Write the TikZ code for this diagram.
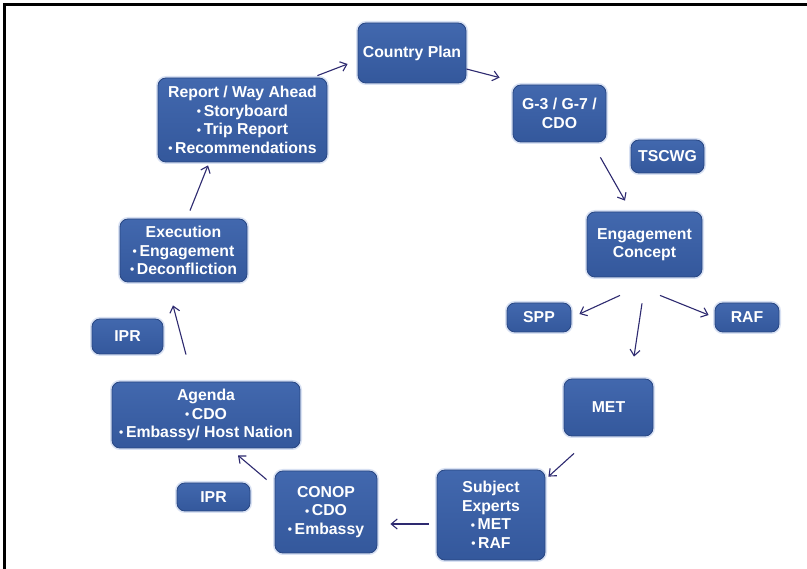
\documentclass[tikz,border=0pt]{standalone}
\usepackage{fontspec}
\setmainfont{Liberation Sans}
\usetikzlibrary{arrows.meta}
\definecolor{boxtop}{RGB}{66,104,174}
\definecolor{boxbot}{RGB}{52,88,156}
\definecolor{boxedge}{RGB}{40,70,130}
\definecolor{glow}{RGB}{190,205,235}
\definecolor{arrcol}{RGB}{46,42,112}
\newcommand{\bul}{{\fontsize{12}{12}\selectfont\raisebox{0.8pt}{•}}\,}
\tikzset{
  box/.style={rectangle, rounded corners=8pt, top color=boxtop, bottom color=boxbot,
    draw=boxedge, line width=0.8pt, text=white, align=center, inner sep=0pt,
    font=\bfseries\fontsize{15.8}{18.5}\selectfont,
    preaction={draw=glow, line width=4pt, opacity=0.6}},
  arr/.style={draw=arrcol, line width=1.1pt, -{Straight Barb[length=6pt,width=10pt]}}
}
\begin{document}
\begin{tikzpicture}[x=1pt,y=-1pt]
\useasboundingbox (0,0) rectangle (807,569);
\fill[white] (0,0) rectangle (807,569);
\draw[black, line width=3pt] (4.5,569) -- (4.5,4.5) -- (807,4.5);

\node[box, minimum width=108pt, minimum height=60pt] (cp) at (412,53) {Country Plan};
\node[box, minimum width=169pt, minimum height=84pt] (rep) at (242.5,120) {Report / Way Ahead\\\bul Storyboard\\\bul Trip Report\\\bul Recommendations};
\node[box, minimum width=93pt, minimum height=57pt] (g3) at (559.5,113.5) {G-3 / G-7 /\\CDO};
\node[box, minimum width=73pt, minimum height=33pt] (tsc) at (667.5,156.5) {TSCWG};
\node[box, minimum width=115pt, minimum height=65pt] (eng) at (644.5,244.5) {Engagement\\Concept};
\node[box, minimum width=64pt, minimum height=29pt] (spp) at (539,317.5) {SPP};
\node[box, minimum width=64pt, minimum height=29pt] (raf) at (747,317.5) {RAF};
\node[box, minimum width=89pt, minimum height=57pt] (met) at (608.5,407.5) {MET};
\node[box, minimum width=108pt, minimum height=90pt] (sub) at (491,515) {Subject\\Experts\\\bul MET\\\bul RAF};
\node[box, minimum width=102pt, minimum height=82pt] (conop) at (326,512) {CONOP\\\bul CDO\\\bul Embassy};
\node[box, minimum width=73pt, minimum height=28pt] (ipr2) at (213.5,497) {IPR};
\node[box, minimum width=188pt, minimum height=66pt] (agenda) at (206,415) {Agenda\\\bul CDO\\\bul Embassy/ Host Nation};
\node[box, minimum width=71pt, minimum height=35pt] (ipr1) at (127.5,336.5) {IPR};
\node[box, minimum width=127pt, minimum height=63pt] (exe) at (183.5,250.5) {Execution\\\bul Engagement\\\bul Deconfliction};

\draw[arr] ([shift={(-10,-2)}]rep.north east) -- ([shift={(-10,11)}]cp.west);
\draw[arr] ([shift={(0,16)}]cp.east) -- ([shift={(-13,-7)}]g3.north west);
\draw[arr] ([shift={(-6,15)}]g3.south east) -- ([shift={(-19.5,-11)}]eng.north);
\draw[arr] ([shift={(-24.5,18)}]eng.south) -- ([shift={(8,-3.5)}]spp.east);
\draw[arr] ([shift={(15.5,18)}]eng.south) -- ([shift={(-6,-2.5)}]raf.west);
\draw[arr] ([shift={(-2.5,26)}]eng.south) -- ([shift={(25.5,-22)}]met.north);
\draw[arr] ([shift={(-34.5,17)}]met.south) -- ([shift={(3,7)}]sub.north east);
\draw[arr] ([shift={(-8,9)}]sub.west) -- ([shift={(13,12)}]conop.east);
\draw[arr] ([shift={(-8,9)}]conop.north west) -- ([shift={(32,7)}]agenda.south);
\draw[arr] ([shift={(-20,-27)}]agenda.north) -- ([shift={(-10.5,23)}]exe.south);
\draw[arr] ([shift={(6.5,-8)}]exe.north) -- ([shift={(-34.5,3)}]rep.south);
\end{tikzpicture}
\end{document}
